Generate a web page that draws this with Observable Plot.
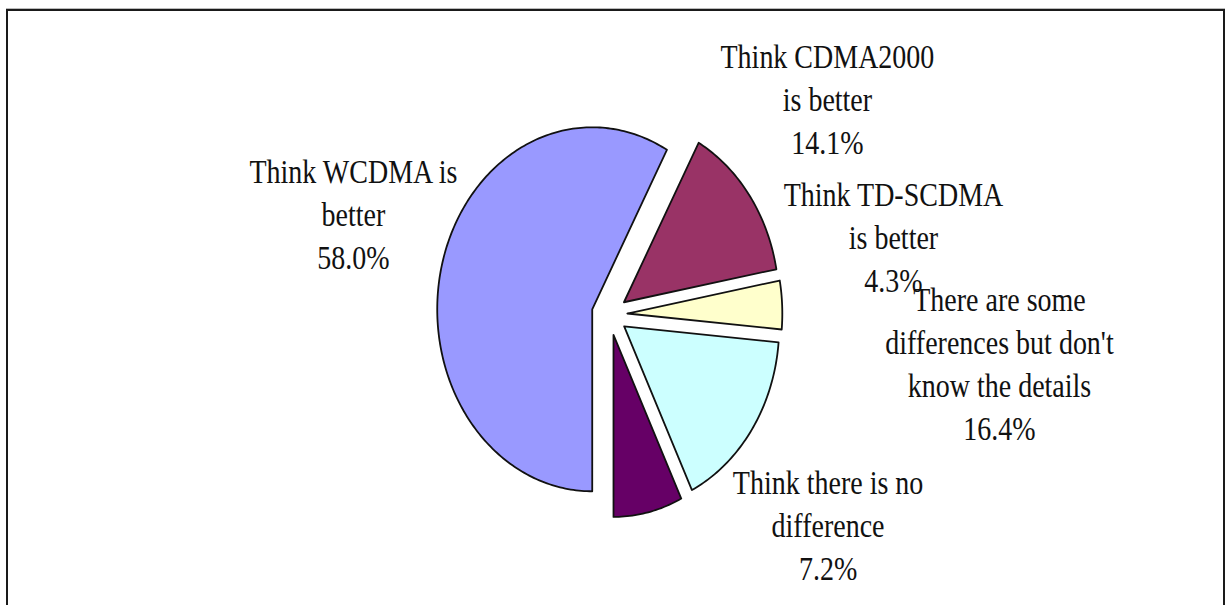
<!DOCTYPE html>
<html><head><meta charset="utf-8">
<script src="https://cdn.jsdelivr.net/npm/d3@7"></script>
<script src="https://cdn.jsdelivr.net/npm/@observablehq/plot@0.6"></script>
<style>
body{margin:0;background:#fff;}
#wrap{position:relative;width:1229px;height:605px;overflow:hidden;}
#frame{position:absolute;left:6px;top:9px;width:1219px;height:620px;box-sizing:border-box;border:2.5px solid #1a1a1a;box-shadow:0 -1px 0 #bbb;pointer-events:none;}
#wrap svg{position:absolute;left:0;top:0;}
</style></head><body><div id="wrap"><div id="frame"></div></div>
<script>
// ---- data ----
const categories = [
  "Think WCDMA is better",
  "Think CDMA2000 is better",
  "Think TD-SCDMA is better",
  "There are some differences but don't know the details",
  "Think there is no difference"
];
const values = [58.0, 14.1, 4.3, 16.4, 7.2];
const labelLines = [
  "Think WCDMA is\nbetter",
  "Think CDMA2000\nis better",
  "Think TD-SCDMA\nis better",
  "There are some\ndifferences but don't\nknow the details",
  "Think there is no\ndifference"
];
const colors = ["#9999FF", "#993366", "#FFFFCC", "#CCFFFF", "#660066"];

// ---- layout (pie units: 1 = radius) ----
const startAngle = 180;       // degrees clockwise from 12 o'clock
const explode = 0.115;
const labelPos = [[-1.652, 0.563], [1.406, 1.195], [1.832, 0.437], [2.516, -0.258], [1.410, -1.146]];
const textStretch = 1.17;

const total = d3.sum(values);
let acc = startAngle;
const points = [];
const labels = [];
categories.forEach((c, i) => {
  const a0 = acc, a1 = acc + values[i] / total * 360; acc = a1;
  const mid = (a0 + a1) / 2 * Math.PI / 180;
  const ox = explode * Math.sin(mid), oy = explode * Math.cos(mid);
  points.push({cat: c, u: ox, v: oy});
  const n = Math.max(2, Math.ceil(a1 - a0));
  for (let k = 0; k <= n; k++) {
    const a = (a0 + (a1 - a0) * k / n) * Math.PI / 180;
    points.push({cat: c, u: ox + Math.sin(a), v: oy + Math.cos(a)});
  }
  labels.push({cat: c, u: labelPos[i][0], v: labelPos[i][1], text: labelLines[i] + "\n" + values[i].toFixed(1) + "%"});
});

const chart = Plot.plot({
  width: 1229, height: 605,
  marginLeft: 454, marginRight: 465, marginTop: 132, marginBottom: 109,
  x: {domain: [-1, 1], axis: null},
  y: {domain: [-1, 1], axis: null},
  color: {domain: categories, range: colors},
  style: {background: "transparent", overflow: "visible"},
  marks: [
    Plot.line(points, {x: "u", y: "v", z: "cat", fill: "cat", stroke: "#111", strokeWidth: 1.8, curve: "linear-closed"}),
    Plot.text(labels, {x: "u", y: "v", text: "text", fontFamily: "Liberation Serif", fontSize: 28, lineHeight: 1.31, fill: "#111"})
  ]
});
d3.select(chart).selectAll("text").each(function() {
  const t = this.getAttribute("transform");
  if (t && t.includes("translate")) this.setAttribute("transform", t + ` scale(1,${textStretch})`);
});
document.getElementById("wrap").appendChild(chart);
</script>
</body></html>
